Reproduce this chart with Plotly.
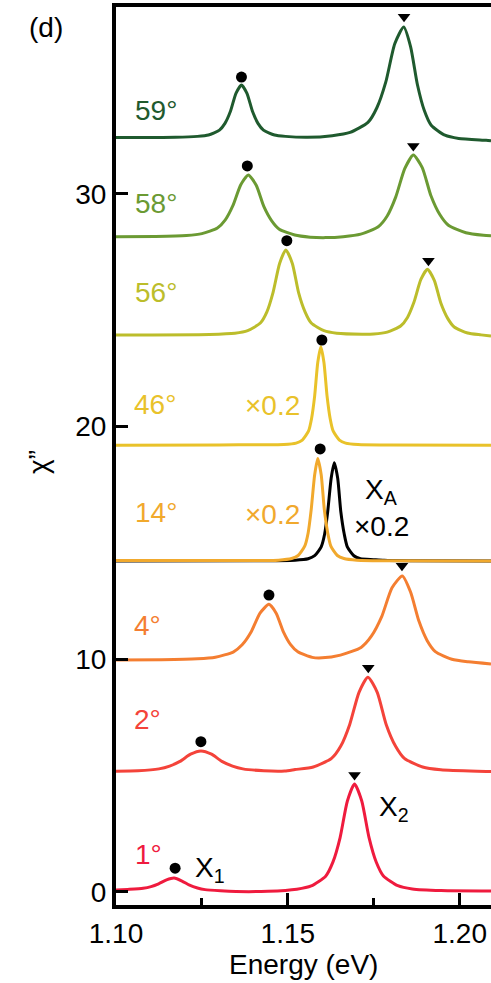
import plotly.graph_objects as go

# Offset spectra of chi'' versus photon energy, one per twist angle
e_59 = [1.1000, 1.1173, 1.1237, 1.1269, 1.1301, 1.1317, 1.1333, 1.1349, 1.1365, 1.1381,
        1.1397, 1.1413, 1.1429, 1.1461, 1.1493, 1.1557, 1.1629, 1.1681, 1.1733, 1.1759,
        1.1785, 1.1811, 1.1837, 1.1857, 1.1877, 1.1897, 1.1917, 1.1957, 1.1997, 1.2077, 1.2091]
y_59 = [32.42, 32.43, 32.47, 32.53, 32.74, 33.03, 33.55, 34.32, 34.68, 34.32,
        33.55, 33.03, 32.74, 32.53, 32.47, 32.43, 32.50, 32.64, 33.07, 33.70,
        34.81, 36.45, 37.17, 36.33, 34.69, 33.58, 32.95, 32.52, 32.38, 32.30, 32.28]

e_58 = [1.1000, 1.1115, 1.1205, 1.1250, 1.1295, 1.1318, 1.1340, 1.1363, 1.1385, 1.1408,
        1.1430, 1.1453, 1.1475, 1.1520, 1.1565, 1.1610, 1.1661, 1.1712, 1.1763, 1.1789,
        1.1814, 1.1840, 1.1865, 1.1891, 1.1916, 1.1942, 1.1967, 1.2018, 1.2069, 1.2091]
y_58 = [28.16, 28.17, 28.21, 28.29, 28.53, 28.88, 29.49, 30.39, 30.81, 30.37,
        29.46, 28.84, 28.48, 28.23, 28.14, 28.12, 28.16, 28.27, 28.59, 29.05,
        29.87, 31.08, 31.67, 31.13, 29.93, 29.11, 28.65, 28.33, 28.22, 28.20]

e_56 = [1.1000, 1.1272, 1.1346, 1.1383, 1.1420, 1.1439, 1.1457, 1.1476, 1.1494, 1.1513,
        1.1531, 1.1550, 1.1568, 1.1605, 1.1642, 1.1716, 1.1750, 1.1789, 1.1828, 1.1848,
        1.1867, 1.1887, 1.1906, 1.1926, 1.1945, 1.1965, 1.1984, 1.2023, 1.2062, 1.2091]
y_56 = [23.94, 23.96, 24.01, 24.12, 24.45, 24.93, 25.77, 27.01, 27.59, 27.01,
        25.77, 24.93, 24.45, 24.12, 24.01, 23.97, 23.98, 24.06, 24.32, 24.69,
        25.35, 26.32, 26.76, 26.28, 25.31, 24.65, 24.28, 24.02, 23.94, 23.89]

e_46 = [1.1000, 1.1300, 1.1420, 1.1488, 1.1524, 1.1542, 1.1560, 1.1569, 1.1578, 1.1587,
        1.1596, 1.1605, 1.1614, 1.1623, 1.1632, 1.1650, 1.1668, 1.1704, 1.1800, 1.2091]
y_46 = [19.20, 19.21, 19.22, 19.23, 19.29, 19.42, 19.80, 20.35, 21.32, 22.75,
        23.43, 22.75, 21.32, 20.35, 19.80, 19.42, 19.29, 19.23, 19.21, 19.20]

e_14 = [1.1000, 1.1300, 1.1473, 1.1511, 1.1530, 1.1549, 1.1559, 1.1568, 1.1578, 1.1587,
        1.1597, 1.1606, 1.1616, 1.1625, 1.1644, 1.1663, 1.1701, 1.1800, 1.2091]
y_14 = [14.24, 14.24, 14.26, 14.33, 14.46, 14.86, 15.43, 16.44, 17.93, 18.63,
        17.93, 16.44, 15.43, 14.86, 14.46, 14.33, 14.26, 14.23, 14.22]

# monolayer reference exciton X_A (scaled x0.2)
e_xa = [1.1000, 1.1400, 1.1521, 1.1559, 1.1578, 1.1597, 1.1607, 1.1616, 1.1626, 1.1635,
        1.1645, 1.1654, 1.1664, 1.1673, 1.1692, 1.1711, 1.1749, 1.1780, 1.1850, 1.2091]
y_xa = [14.22, 14.23, 14.26, 14.32, 14.45, 14.83, 15.38, 16.35, 17.78, 18.45,
        17.78, 16.35, 15.38, 14.83, 14.45, 14.32, 14.28, 14.25, 14.23, 14.22]

e_4 = [1.1000, 1.1133, 1.1237, 1.1289, 1.1341, 1.1367, 1.1393, 1.1419, 1.1445, 1.1466,
       1.1487, 1.1508, 1.1529, 1.1571, 1.1600, 1.1653, 1.1713, 1.1743, 1.1773, 1.1803,
       1.1833, 1.1857, 1.1881, 1.1905, 1.1929, 1.1977, 1.2025, 1.2091]
y_4 = [9.97, 9.98, 10.02, 10.09, 10.31, 10.62, 11.17, 11.98, 12.36, 11.98,
       11.18, 10.63, 10.32, 10.08, 10.06, 10.18, 10.51, 10.99, 11.83, 13.07,
       13.58, 12.89, 11.65, 10.81, 10.33, 10.00, 9.89, 9.80]

e_2 = [1.1000, 1.1064, 1.1125, 1.1156, 1.1186, 1.1217, 1.1247, 1.1278, 1.1308, 1.1339,
       1.1369, 1.1430, 1.1491, 1.1521, 1.1574, 1.1627, 1.1654, 1.1680, 1.1707, 1.1733,
       1.1760, 1.1786, 1.1813, 1.1839, 1.1892, 1.1945, 1.2051, 1.2091]
y_2 = [5.19, 5.21, 5.29, 5.41, 5.61, 5.92, 6.06, 5.92, 5.61, 5.41,
       5.29, 5.21, 5.20, 5.26, 5.37, 5.74, 6.27, 7.20, 8.58, 9.23,
       8.58, 7.20, 6.27, 5.74, 5.37, 5.25, 5.19, 5.18]

e_1 = [1.1000, 1.1034, 1.1079, 1.1102, 1.1124, 1.1147, 1.1169, 1.1192, 1.1214, 1.1237,
       1.1259, 1.1304, 1.1349, 1.1442, 1.1526, 1.1568, 1.1610, 1.1631, 1.1652, 1.1673,
       1.1694, 1.1715, 1.1736, 1.1757, 1.1778, 1.1820, 1.1862, 1.1946, 1.2091]
y_1 = [0.08, 0.11, 0.16, 0.23, 0.35, 0.52, 0.60, 0.47, 0.29, 0.17,
       0.10, 0.05, 0.02, 0.03, 0.12, 0.26, 0.68, 1.28, 2.34, 3.90,
       4.64, 3.91, 2.35, 1.29, 0.69, 0.27, 0.13, 0.06, 0.04]

# peak markers: X1-branch (dots) and X2-branch (triangles)
dot_e = [1.1365, 1.1382, 1.1497, 1.1599, 1.1594, 1.1445, 1.1247, 1.1172]
dot_y = [35.02, 31.20, 27.99, 23.72, 19.04, 12.76, 6.46, 1.02]
tri_e = [1.1838, 1.1865, 1.1909, 1.1832, 1.1734, 1.1694]
tri_y = [37.61, 32.06, 27.13, 14.02, 9.64, 5.03]

angle_labels = ["59°", "58°", "56°", "46°", "14°", "4°", "2°", "1°"]
colors = ["#1f5a2e", "#6b9a33", "#bcbd2b", "#e9c22a", "#f1a92d", "#f47e31", "#f4433a", "#ef1b3e"]
spectra = [(e_59, y_59), (e_58, y_58), (e_56, y_56), (e_46, y_46),
           (e_14, y_14), (e_4, y_4), (e_2, y_2), (e_1, y_1)]

FONT = "Liberation Sans, Arial, sans-serif"
FS = 28

fig = go.Figure()

line_style = dict(width=3, shape="spline", smoothing=0.6)

# X_A reference goes underneath the 14° trace
fig.add_trace(go.Scatter(x=e_xa, y=y_xa, mode="lines", line=dict(color="black", **line_style),
                         showlegend=False, hoverinfo="skip"))
for (ex, ey), c in zip(spectra, colors):
    fig.add_trace(go.Scatter(x=ex, y=ey, mode="lines", line=dict(color=c, **line_style),
                             showlegend=False, hoverinfo="skip"))

fig.add_trace(go.Scatter(x=dot_e, y=dot_y, mode="markers", marker=dict(symbol="circle", size=11, color="black"),
                         showlegend=False, hoverinfo="skip"))
fig.add_trace(go.Scatter(x=tri_e, y=tri_y, mode="markers", marker=dict(symbol="triangle-down", size=11, color="black"),
                         showlegend=False, hoverinfo="skip"))

# angle labels along the left edge
label_x = [1.1050, 1.1050, 1.1050, 1.1047, 1.1050, 1.1047, 1.1047, 1.1050]
label_y = [33.58, 29.57, 25.78, 20.93, 16.29, 11.43, 7.43, 1.59]
for t, c, lx, ly in zip(angle_labels, colors, label_x, label_y):
    fig.add_annotation(x=lx, y=ly, xref="x", yref="y", text=t, showarrow=False, xanchor="left", yanchor="middle",
                       font=dict(family=FONT, size=FS, color=c))

# scale factors and peak names
extra = [
    ("×0.2", 1.1370, 20.89, colors[3]),
    ("×0.2", 1.1370, 16.24, colors[4]),
    ("×0.2", 1.1687, 15.70, "black"),
    ("X<sub>A</sub>", 1.1719, 17.20, "black"),
    ("X<sub>1</sub>", 1.1224, 0.95, "black"),
    ("X<sub>2</sub>", 1.1760, 3.57, "black"),
]
for t, lx, ly, c in extra:
    fig.add_annotation(x=lx, y=ly, xref="x", yref="y", text=t, showarrow=False, xanchor="left", yanchor="middle",
                       font=dict(family=FONT, size=FS, color=c))

fig.add_annotation(x=-0.1867, y=0.9777, xref="paper", yref="paper", text="(d)", showarrow=False,
                   xanchor="center", yanchor="middle", font=dict(family=FONT, size=FS, color="black"))
fig.add_annotation(x=-0.208, y=0.4933, xref="paper", yref="paper", text="χ”", showarrow=False, textangle=-90,
                   xanchor="center", yanchor="middle", font=dict(family=FONT, size=FS, color="black"))
fig.add_annotation(x=0.5013, y=-0.0668, xref="paper", yref="paper", text="Energy (eV)", showarrow=False,
                   xanchor="center", yanchor="middle", font=dict(family=FONT, size=FS, color="black"))

fig.update_xaxes(range=[1.10, 1.2091], tickvals=[1.10, 1.15, 1.20], ticktext=["1.10", "1.15", "1.20"],
                 ticks="inside", ticklen=12, tickwidth=3, tickcolor="black",
                 minor=dict(ticks="inside", ticklen=7, tickwidth=3, tickcolor="black", tickvals=[1.125, 1.175]),
                 showline=True, linewidth=4, linecolor="black", mirror=True,
                 showgrid=False, zeroline=False, tickfont=dict(family=FONT, size=FS, color="black"))
fig.update_yaxes(range=[-0.56, 38.03], tickvals=[0, 10, 20, 30], ticks="inside", ticklen=12, tickwidth=3,
                 tickcolor="black", showline=True, linewidth=4, linecolor="black",
                 showgrid=False, zeroline=False, tickfont=dict(family=FONT, size=FS, color="black"))

fig.update_layout(width=491, height=983, margin=dict(l=116, r=0, t=7, b=78),
                  plot_bgcolor="white", paper_bgcolor="white", showlegend=False)

fig.write_html("out.html")
